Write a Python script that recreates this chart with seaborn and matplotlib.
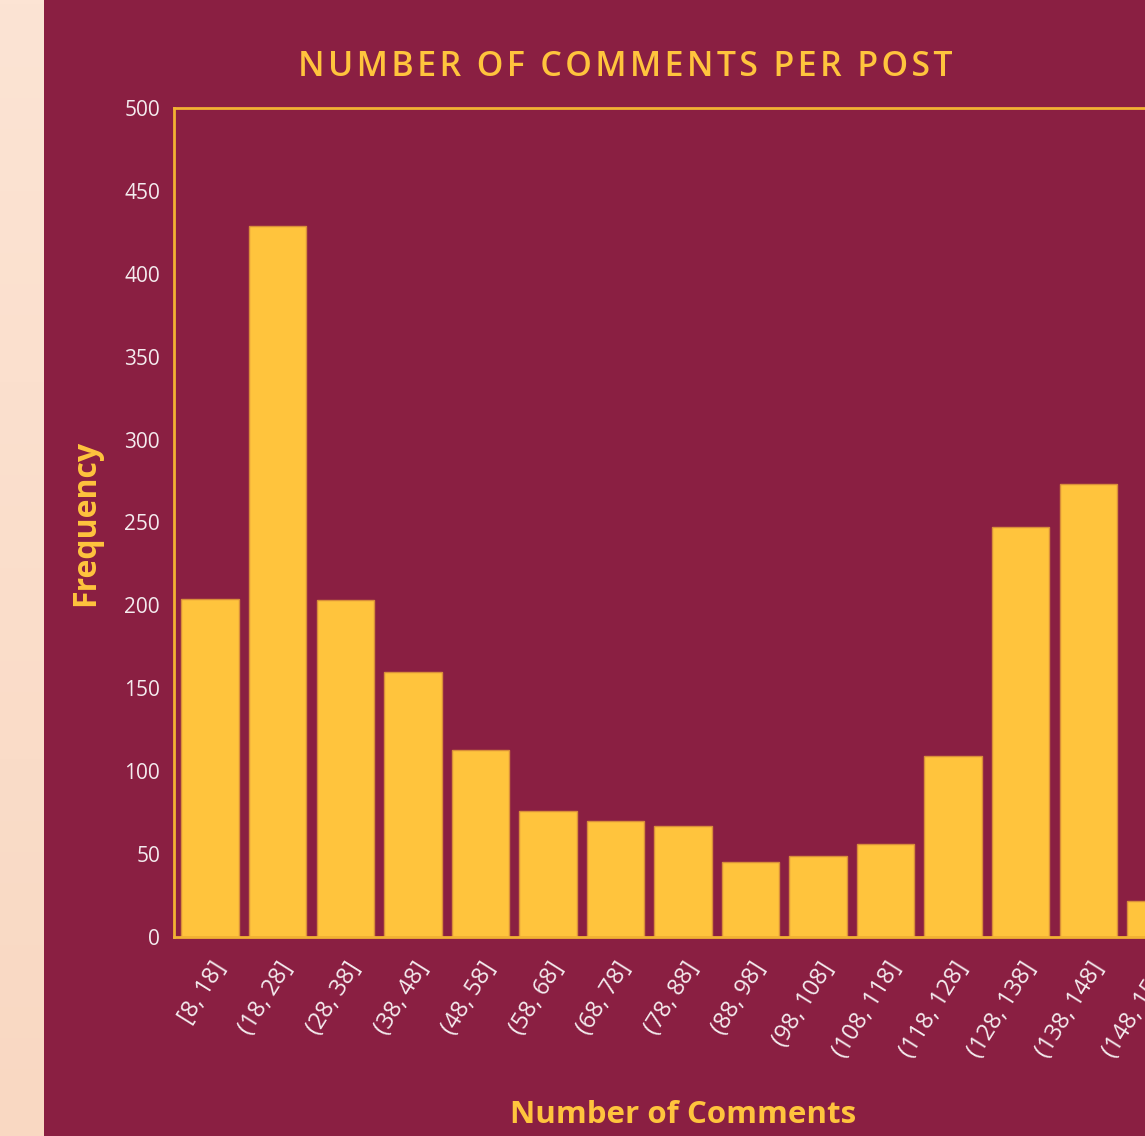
import numpy as np
import pandas as pd
import matplotlib
matplotlib.use("Agg")
import matplotlib.pyplot as plt
import seaborn as sns

# Histogram bins of comments per post and their counts
bins = ["[8, 18]", "(18, 28]", "(28, 38]", "(38, 48]", "(48, 58]", "(58, 68]",
        "(68, 78]", "(78, 88]", "(88, 98]", "(98, 108]", "(108, 118]",
        "(118, 128]", "(128, 138]", "(138, 148]", "(148, 158]"]
counts = [204, 429, 203, 160, 113, 76, 70, 67, 45, 49, 56, 109, 247, 273, 22]
yticks = [0, 50, 100, 150, 200, 250, 300, 350, 400, 450, 500]

MAROON = "#8A1F42"
GOLD = "#FFC43D"
SPINE = "#F2B233"
EDGE = "#D98E3A"
TICK = "#F4EBEE"

sns.set_style("white")
plt.rcParams["font.family"] = ["Open Sans", "DejaVu Sans"]

W, H = 1145, 1136
fig = plt.figure(figsize=(W / 100, H / 100), dpi=100)
fig.patch.set_facecolor(MAROON)

# Pale side strip with a soft vertical gradient
strip = fig.add_axes([0, 0, 44 / W, 1])
grad = np.linspace(0, 1, 256).reshape(-1, 1)
cmap = matplotlib.colors.LinearSegmentedColormap.from_list("peach", ["#FCE4D4", "#F9D8C2"])
strip.imshow(grad, aspect="auto", cmap=cmap, extent=[0, 1, 0, 1], origin="upper")
strip.set_axis_off()

left, right = 174 / W, 1192 / W
bottom, top = 1 - 937 / H, 1 - 108 / H
ax = fig.add_axes([left, bottom, right - left, top - bottom])
ax.set_facecolor(MAROON)

df = pd.DataFrame({"bin": bins, "count": counts})
sns.barplot(data=df, x="bin", y="count", color=GOLD, saturation=1,
            width=0.85, edgecolor=EDGE, linewidth=1, ax=ax)

ax.set_xlim(-0.535, len(bins) - 1 + 0.535)
ax.set_ylim(0, 500)
ax.set_yticks(yticks)
ax.set_yticklabels([str(v) for v in yticks], fontsize=15, color=TICK)

for s in ax.spines.values():
    s.set_color(SPINE)
    s.set_linewidth(2)

ax.tick_params(axis="both", length=0)
ax.tick_params(axis="y", pad=10)
ax.tick_params(axis="x", pad=15)
ax.set_xticks(range(len(bins)))
ax.set_xticklabels(bins, fontsize=17, color=TICK, rotation=58,
                   ha="right", rotation_mode="anchor")

ax.set_xlabel("Number of Comments", color=GOLD, fontsize=22.5, fontweight="bold")
ax.xaxis.label.set_va("baseline")
ax.xaxis.set_label_coords(0.5, -(1123 - 937) / 829)
ax.set_ylabel("Frequency", color=GOLD, fontsize=23, fontweight="bold")
ax.yaxis.label.set_va("center")
ax.yaxis.set_label_coords((86 - 174) / 1018, 0.5)

# Letter-spaced heading
title = "NUMBER OF COMMENTS PER POST"
spaced = "\u200a".join(title)
fig.text(625 / W, 1 - 76 / H, spaced, color=GOLD,
         fontsize=24.4, fontweight="semibold", ha="center", va="baseline")

fig.savefig("out.png", dpi=100, facecolor=fig.get_facecolor())
